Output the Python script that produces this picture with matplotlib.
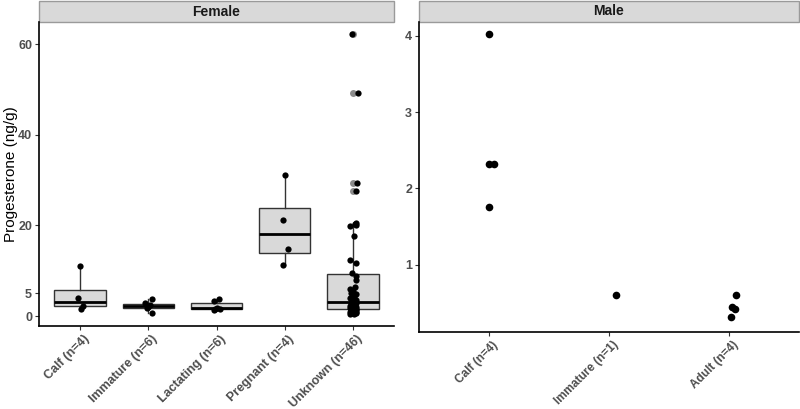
#!/usr/bin/python3
# progesterone by reproductive class, faceted by sex
import matplotlib
matplotlib.use("Agg")
import matplotlib.pyplot as plt
import matplotlib.transforms as mtransforms
from matplotlib.patches import Rectangle

plt.rcParams['font.family'] = ['Liberation Sans', 'DejaVu Sans']

# female data (ng/g)
female_cats = ["Calf (n=4)", "Immature (n=6)", "Lactating (n=6)", "Pregnant (n=4)", "Unknown (n=46)"]
f_calf = [1.6, 2.3, 4.0, 11.1]
f_immature = [0.7, 1.8, 2.0, 2.5, 2.8, 3.7]
f_lactating = [1.3, 1.5, 1.6, 1.8, 3.3, 3.7]
f_pregnant = [11.2, 14.8, 21.3, 31.1]
f_unknown = [0.4, 0.5, 0.6, 0.7, 0.8, 0.9, 1.0, 1.1, 1.2, 1.3, 1.4, 1.5,
             1.6, 1.7, 1.8, 1.9, 2.0, 2.2, 2.4, 2.6, 2.8, 2.9, 3.0, 3.2,
             3.5, 3.9, 4.3, 4.8, 5.1, 5.5, 6.0, 6.3, 7.9, 8.9, 9.4,
             11.6, 12.3, 17.7, 19.8, 20.1, 20.3, 20.5,
             27.6, 29.4, 49.3, 62.2]

# jitter offsets (category units)
j_calf = [0.02, 0.05, -0.03, 0.0]
j_immature = [0.06, -0.02, 0.0, 0.03, -0.05, 0.05]
j_lactating = [-0.04, 0.05, -0.02, 0.0, -0.03, 0.03]
j_pregnant = [-0.03, 0.05, -0.03, 0.0]
j_unknown = [0.02, -0.04, 0.05, -0.02, 0.0, 0.04, -0.05, 0.03, -0.01, 0.05,
             -0.03, 0.01, 0.04, -0.05, 0.02, -0.02, 0.05, -0.04, 0.0, 0.03,
             -0.03, 0.05, -0.01, 0.02, 0.04, -0.05, 0.01, 0.05, -0.03, 0.0,
             -0.04, 0.03, 0.05, 0.04, -0.02, 0.05, -0.04, 0.02, -0.05, 0.05,
             0.03, 0.04, 0.05, 0.06, 0.07, -0.02]

# male data (ng/g)
male_cats = ["Calf (n=4)", "Immature (n=1)", "Adult (n=4)"]
m_calf = [4.02, 2.32, 2.32, 1.76]
m_immature = [0.60]
m_adult = [0.61, 0.45, 0.42, 0.31]
mj_calf = [0.0, 0.0, 0.045, 0.0]
mj_immature = [0.06]
mj_adult = [0.06, 0.02, 0.045, 0.015]

TICK_COL = "#4d4d4d"

fig = plt.figure(figsize=(8, 4.09), dpi=100)
W, H = 800.0, 409.0
axf = fig.add_axes([39/W, 1-326/H, (394-39)/W, (326-22)/H])
axm = fig.add_axes([419/W, 1-332/H, (799-419)/W, (332-22)/H])


def style(ax, title, h_px, xsize):
    for s in ["top", "right"]:
        ax.spines[s].set_visible(False)
    for s in ["left", "bottom"]:
        ax.spines[s].set_linewidth(1.2)
        ax.spines[s].set_color("black")
    ax.tick_params(axis="both", length=3, width=0.8, color="#333333",
                   labelcolor=TICK_COL, labelsize=9, pad=2)
    for lab in ax.get_yticklabels() + ax.get_xticklabels():
        lab.set_fontweight("bold")
    shift = mtransforms.ScaledTranslation(3/100, 0, fig.dpi_scale_trans)
    for lab in ax.get_xticklabels():
        lab.set_fontsize(xsize)
        lab.set_rotation(45)
        lab.set_ha("right")
        lab.set_va("top")
        lab.set_rotation_mode("anchor")
        lab.set_transform(lab.get_transform() + shift)
    sh = 21.0 / h_px
    ax.add_patch(Rectangle((0, 1.0), 1, sh, transform=ax.transAxes,
                           facecolor="#d9d9d9", edgecolor="#9a9a9a",
                           linewidth=1, clip_on=False))
    ax.text(0.5, 1.0 + sh/2, title, transform=ax.transAxes, ha="center",
            va="center", fontsize=10, fontweight="bold", color="#1a1a1a")


# female panel: boxes + jittered points
groups = [f_calf, f_immature, f_lactating, f_pregnant, f_unknown]
jitters = [j_calf, j_immature, j_lactating, j_pregnant, j_unknown]
axf.boxplot(groups, positions=range(len(groups)), widths=0.75, patch_artist=True,
            boxprops=dict(facecolor="#d9d9d9", edgecolor="#333333", linewidth=1),
            medianprops=dict(color="black", linewidth=2),
            whiskerprops=dict(color="#333333", linewidth=1),
            capprops=dict(linewidth=0),
            flierprops=dict(marker="o", markerfacecolor="#8c8c8c",
                            markeredgecolor="none", markersize=5),
            zorder=2)
for i, (vals, jit) in enumerate(zip(groups, jitters)):
    axf.plot([i + j for j in jit], vals, "o", color="black", markersize=4.5,
             markeredgewidth=0, zorder=3)
axf.set_xlim(-0.6, 4.6)
axf.set_ylim(-2.2, 64.9)
axf.set_yticks([0, 5, 20, 40, 60])
axf.set_xticks(range(len(female_cats)))
axf.set_xticklabels(female_cats)
axf.set_ylabel("Progesterone (ng/g)", fontsize=11, color="black")
axf.yaxis.set_label_coords(-21/355, 0.5)
style(axf, "Female", 304, 9)

# male panel: points only
mgroups = [m_calf, m_immature, m_adult]
mjit = [mj_calf, mj_immature, mj_adult]
for i, (vals, jit) in enumerate(zip(mgroups, mjit)):
    axm.plot([i + j for j in jit], vals, "o", color="black", markersize=5.5,
             markeredgewidth=0)
axm.set_xlim(-0.58, 2.58)
axm.set_ylim(0.12, 4.18)
axm.set_yticks([1, 2, 3, 4])
axm.set_xticks(range(len(male_cats)))
axm.set_xticklabels(male_cats)
style(axm, "Male", 310, 8.5)

plt.savefig("out.png", dpi=100)
plt.close()
